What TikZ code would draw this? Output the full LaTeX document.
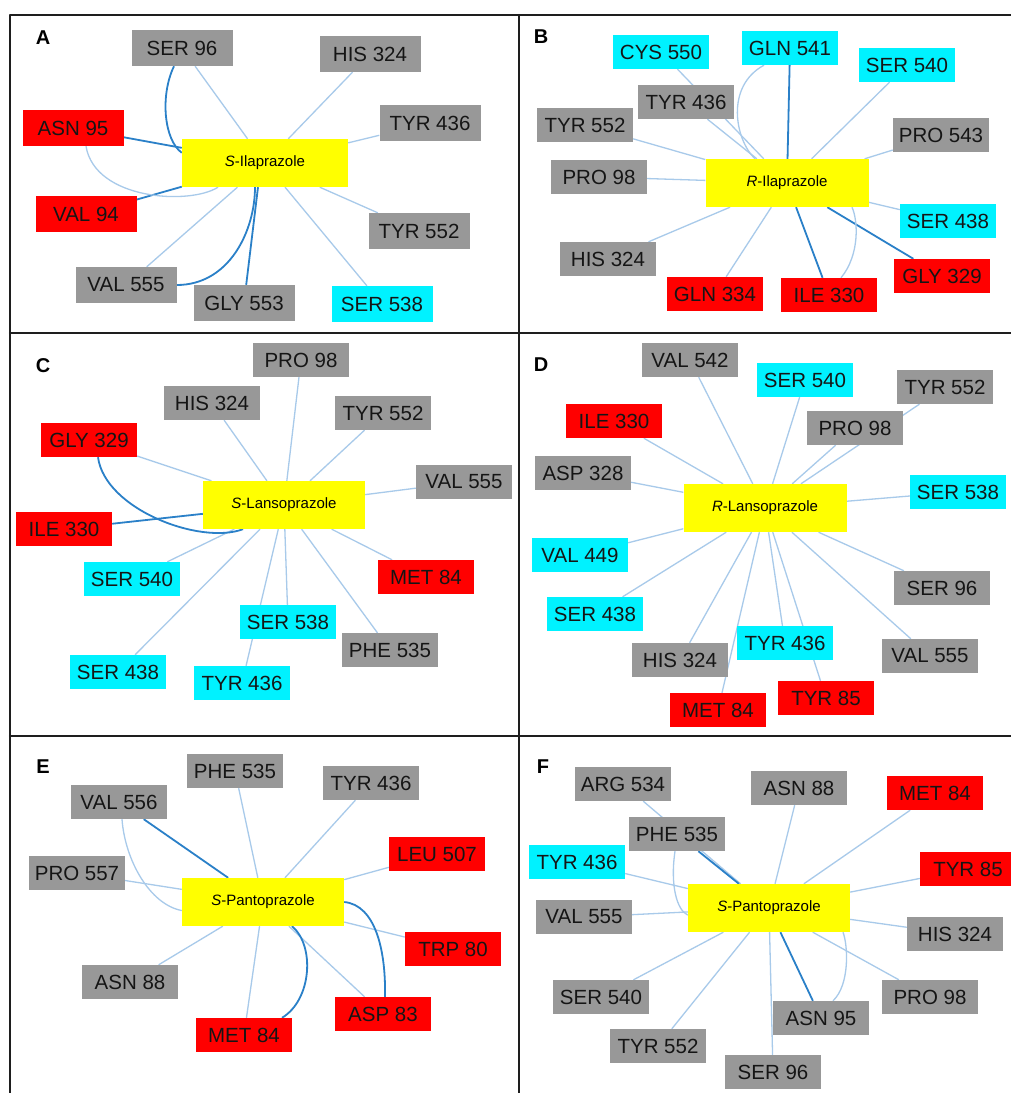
\documentclass[tikz,border=0pt]{standalone}
\usepackage{fontspec}
\setmainfont{Liberation Sans}
\usetikzlibrary{arrows.meta,calc}
\definecolor{dockGrey}{HTML}{989898}
\definecolor{dockRed}{HTML}{FF0000}
\definecolor{dockCyan}{HTML}{00F2FF}
\definecolor{dockYellow}{HTML}{FFFF00}
\definecolor{dockLink}{HTML}{A8CAEA}
\definecolor{dockBond}{HTML}{2A80C8}
\definecolor{dockInk}{HTML}{151515}
\definecolor{dockFrame}{HTML}{1E1E1E}
\pgfdeclarelayer{back}
\pgfsetlayers{back,main}

\begin{document}
\begin{tikzpicture}[x=1pt,y=-1pt,line cap=round,line join=round]
\begin{pgfonlayer}{back}
\path[fill=white] (0,0) rectangle (1010,1093);
\end{pgfonlayer}
\useasboundingbox (0,0) rectangle (1010,1093);
\tikzset{res/.style={minimum width=96pt,minimum height=34pt,inner sep=0pt,text=dockInk,font=\fontsize{20.5}{22}\selectfont},greybox/.style={res,fill=dockGrey},redbox/.style={res,fill=dockRed},cyanbox/.style={res,fill=dockCyan},drugbox/.style={fill=dockYellow,minimum width=163pt,minimum height=48pt,inner sep=0pt,text=black,font=\fontsize{15}{17}\selectfont},tag/.style={text=black,font=\bfseries\fontsize{20}{22}\selectfont},link/.style={draw=dockLink,line width=1.3pt},bond/.style={draw=dockBond,line width=1.8pt},frame/.style={draw=dockFrame,line width=2.2pt}}
\draw[frame] (10,1100) -- (10,15) -- (1015,15); \draw[frame] (519,15) -- (519,1100);
\draw[frame] (10,333) -- (1015,333); \draw[frame] (10,736) -- (1015,736);
\begin{scope}[res/.append style={minimum width=101pt,minimum height=36pt}]
\node[tag] (tA) at (43,38) {A};
\node[drugbox,minimum width=166pt] (cA) at (265,163) {\textit{S}-Ilaprazole};
\node[greybox] (a96) at (182,48) {SER 96}; \node[greybox] (a324) at (370,54) {HIS 324};
\node[redbox] (a95) at (73,128) {ASN 95}; \node[greybox] (a436) at (430,123) {TYR 436};
\node[redbox] (a94) at (86,214) {VAL 94}; \node[greybox] (a552) at (419,231) {TYR 552};
\node[greybox] (a555) at (126,285) {VAL 555}; \node[greybox] (a553) at (244,303) {GLY 553};
\node[cyanbox] (a538) at (382,304) {SER 538};
\end{scope}
\begin{pgfonlayer}{back}
\draw[link] (a96) -- (cA); \draw[link] (a324) -- (cA); \draw[link] (a436) -- (cA);
\draw[link] (a555) -- (cA); \draw[link] (a552) -- (cA); \draw[link] (a538) -- (cA);
\draw[bond] (a95) -- (cA); \draw[bond] (a94) -- (cA); \draw[bond] (a553) -- ([xshift=-7pt]cA.south);
\draw[link] ([xshift=13pt]a95.south) .. controls +(9,54) and +(-28,18) .. ([xshift=-47pt]cA.south);
\draw[bond] ([xshift=-8pt]a96.south) .. controls +(-14,29) and +(-18,-13) .. (cA.173);
\draw[bond] (a555.east) .. controls +(53,0) and +(0,43) .. ([xshift=-10pt]cA.south);
\end{pgfonlayer}
\node[tag] (tB) at (541,37) {B};
\node[drugbox] (cB) at (787,183) {\textit{R}-Ilaprazole};
\node[cyanbox] (b550) at (661,52) {CYS 550}; \node[cyanbox] (b541) at (790,48) {GLN 541};
\node[cyanbox] (b540) at (907,65) {SER 540}; \node[greybox] (b436) at (686,102) {TYR 436};
\node[greybox] (b552) at (585,125) {TYR 552}; \node[greybox] (b543) at (941,135) {PRO 543};
\node[greybox] (b98) at (599,177) {PRO 98}; \node[cyanbox] (b438) at (948,221) {SER 438};
\node[greybox] (b324) at (608,259) {HIS 324}; \node[redbox] (b329) at (942,276) {GLY 329};
\node[redbox] (b334) at (715,294) {GLN 334}; \node[redbox] (b330) at (829,295) {ILE 330};
\begin{pgfonlayer}{back}
\draw[link] (b550) -- (cB); \draw[link] (b436) -- (cB); \draw[link] (b540) -- (cB);
\draw[link] (b543) -- (cB); \draw[link] (b552) -- (cB); \draw[link] (b98) -- (cB);
\draw[link] (b438) -- (cB); \draw[link] (b324) -- (cB); \draw[link] (b334) -- (cB);
\draw[bond] (b541) -- (cB); \draw[bond] (b330) -- (cB); \draw[bond] (b329) -- (cB);
\draw[link] ([xshift=-26pt]b541.south) .. controls +(-39,21) and +(-20,-19) .. ([xshift=-32pt]cB.north);
\draw[link] ([xshift=12pt]b330.north) .. controls +(19,-23) and +(6,13) .. ([xshift=65pt]cB.south);
\end{pgfonlayer}
\node[tag] (tC) at (43,366) {C};
\node[drugbox,minimum width=162pt] (cC) at (284,505) {\textit{S}-Lansoprazole};
\node[greybox] (c98) at (301,360) {PRO 98}; \node[greybox] (c324) at (212,403) {HIS 324};
\node[greybox] (c552) at (383,413) {TYR 552}; \node[redbox] (c329) at (89,440) {GLY 329};
\node[greybox] (c555) at (464,482) {VAL 555}; \node[redbox] (c330) at (64,529) {ILE 330};
\node[cyanbox] (c540) at (132,579) {SER 540}; \node[redbox] (c84) at (426,577) {MET 84};
\node[cyanbox] (c538) at (288,622) {SER 538}; \node[greybox] (c535) at (390,650) {PHE 535};
\node[cyanbox] (c438) at (118,672) {SER 438}; \node[cyanbox] (c436) at (242,683) {TYR 436};
\begin{pgfonlayer}{back}
\draw[link] (c98) -- (cC); \draw[link] (c324) -- (cC); \draw[link] (c552) -- (cC);
\draw[link] (c329) -- (cC); \draw[link] (c555) -- (cC); \draw[link] (c540) -- (cC);
\draw[link] (c84) -- (cC); \draw[link] (c538) -- (cC); \draw[link] (c535) -- (cC);
\draw[link] (c438) -- (cC); \draw[link] (c436) -- (cC); \draw[bond] (c330) -- (cC);
\draw[bond] ([xshift=9pt]c329.south) .. controls +(7,52) and +(-43,16) .. ([xshift=-41pt]cC.south);
\end{pgfonlayer}
\node[tag] (tD) at (541,365) {D};
\node[drugbox] (cD) at (765,508) {\textit{R}-Lansoprazole};
\node[greybox] (d542) at (690,360) {VAL 542}; \node[cyanbox] (d540) at (805,380) {SER 540};
\node[greybox] (d552) at (945,387) {TYR 552}; \node[redbox] (d330) at (614,421) {ILE 330};
\node[greybox] (d98) at (855,428) {PRO 98}; \node[greybox] (d328) at (583,473) {ASP 328};
\node[cyanbox] (d538) at (958,492) {SER 538}; \node[cyanbox] (d449) at (580,555) {VAL 449};
\node[greybox] (d96) at (942,588) {SER 96}; \node[cyanbox] (d438) at (595,614) {SER 438};
\node[cyanbox] (d436) at (785,643) {TYR 436}; \node[greybox] (d324) at (680,660) {HIS 324};
\node[greybox] (d555) at (930,656) {VAL 555}; \node[redbox] (d85) at (826,698) {TYR 85};
\node[redbox] (d84) at (718,710) {MET 84};
\begin{pgfonlayer}{back}
\draw[link] (d542) -- (cD); \draw[link] (d540) -- (cD); \draw[link] (d552) -- (cD);
\draw[link] (d330) -- (cD); \draw[link] (d98) -- (cD); \draw[link] (d328) -- (cD);
\draw[link] (d538) -- (cD); \draw[link] (d449) -- (cD); \draw[link] (d96) -- (cD);
\draw[link] (d438) -- (cD); \draw[link] (d436) -- (cD); \draw[link] (d324) -- (cD);
\draw[link] (d555) -- (cD); \draw[link] (d85) -- (cD); \draw[link] (d84) -- (cD);
\end{pgfonlayer}
\node[tag] (tE) at (43,767) {E};
\node[drugbox,minimum width=162pt] (cE) at (263,902) {\textit{S}-Pantoprazole};
\node[greybox] (e535) at (235,771) {PHE 535}; \node[greybox] (e436) at (371,783) {TYR 436};
\node[greybox] (e556) at (119,802) {VAL 556}; \node[redbox] (e507) at (437,854) {LEU 507};
\node[greybox] (e557) at (77,873) {PRO 557}; \node[redbox] (e80) at (453,949) {TRP 80};
\node[greybox] (e88) at (130,982) {ASN 88}; \node[redbox] (e83) at (383,1014) {ASP 83};
\node[redbox] (e84) at (244,1035) {MET 84};
\begin{pgfonlayer}{back}
\draw[link] (e535) -- (cE); \draw[link] (e436) -- (cE); \draw[link] (e557) -- (cE);
\draw[link] (e507) -- (cE); \draw[link] (e80) -- (cE); \draw[link] (e88) -- (cE);
\draw[link] (e84) -- (cE); \draw[link] (e83) -- (cE); \draw[bond] (e556) -- (cE);
\draw[link] ([xshift=3pt]e556.south) .. controls +(3,41) and +(-32,-6) .. (cE.186);
\draw[bond] (cE.east) .. controls +(31,3) and +(1,-47) .. ([xshift=2pt]e83.north);
\draw[bond] ([xshift=38pt]e84.north) .. controls +(30,-18) and +(23,19) .. ([xshift=29pt]cE.south);
\end{pgfonlayer}
\node[tag] (tF) at (543,767) {F};
\node[drugbox,minimum width=162pt] (cF) at (769,908) {\textit{S}-Pantoprazole};
\node[greybox] (f534) at (623,784) {ARG 534}; \node[greybox] (f88) at (799,788) {ASN 88};
\node[redbox] (f84) at (935,793) {MET 84}; \node[greybox] (f535) at (677,834) {PHE 535};
\node[cyanbox] (f436) at (577,862) {TYR 436}; \node[redbox] (f85) at (968,869) {TYR 85};
\node[greybox] (f555) at (584,917) {VAL 555}; \node[greybox] (f324) at (955,934) {HIS 324};
\node[greybox] (f98) at (930,997) {PRO 98}; \node[greybox] (f540) at (601,997) {SER 540};
\node[greybox] (f95) at (821,1018) {ASN 95}; \node[greybox] (f552) at (658,1046) {TYR 552};
\node[greybox] (f96) at (773,1072) {SER 96};
\begin{pgfonlayer}{back}
\draw[link] (f534) -- (cF); \draw[link] (f88) -- (cF); \draw[link] (f84) -- (cF);
\draw[link] (f436) -- (cF); \draw[link] (f85) -- (cF); \draw[link] (f555) -- (cF);
\draw[link] (f324) -- (cF); \draw[link] (f98) -- (cF); \draw[link] (f540) -- (cF);
\draw[link] (f552) -- (cF); \draw[link] (f96) -- (cF);
\draw[bond] (f535) -- (cF); \draw[bond] (f95) -- (cF);
\draw[link] ([xshift=-2pt]f535.south) .. controls +(-5,34) and +(-11,-5) .. (cF.185);
\draw[link] ([xshift=12pt]f95.north) .. controls +(17,-16) and +(5,13) .. ([xshift=74pt]cF.south);
\end{pgfonlayer}
\end{tikzpicture}
\end{document}
